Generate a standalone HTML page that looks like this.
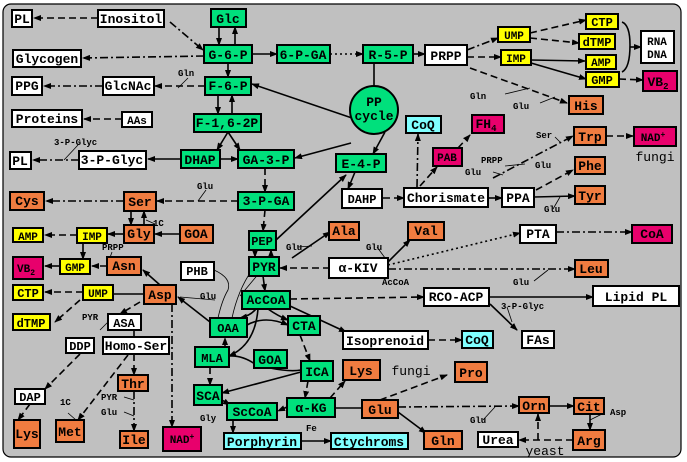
<!DOCTYPE html>
<html><head><meta charset="utf-8"><style>
html,body{margin:0;padding:0;background:#fff;width:687px;height:462px;overflow:hidden}
svg{display:block}
.b{stroke:#000;stroke-width:2}
.g{fill:#00e07c}.o{fill:#f07c40}.y{fill:#ffff00}.m{fill:#e8006c}.c{fill:#80ffff}.w{fill:#fff}
text{font-family:"Liberation Mono",monospace;font-weight:bold;font-size:13px;text-anchor:middle;fill:#000}
.s{font-size:9px;text-anchor:start}
.l{stroke:#000;stroke-width:1.6;fill:none;marker-end:url(#a)}
.d{stroke-dasharray:7 4}
.dd{stroke-dasharray:8 3 2 3}
.dt{stroke-dasharray:2 3}
.t{stroke:#000;stroke-width:0.8;fill:none}
</style></head><body>
<svg width="687" height="462" viewBox="0 0 687 462">
<defs><marker id="a" markerWidth="8" markerHeight="6" refX="7" refY="3" orient="auto" markerUnits="userSpaceOnUse"><path d="M0,0L8,3L0,6z" fill="#000"/></marker></defs>
<rect x="3" y="4" width="678" height="453" rx="8" fill="#c0c0c0" stroke="#000" stroke-width="1.2"/>
<g>
<line class="l d" x1="98" y1="18" x2="34" y2="18"/>
<line class="l dd" x1="170" y1="22" x2="203" y2="50"/>
<line class="l" x1="219" y1="27" x2="219" y2="45"/><line class="l" x1="235" y1="45" x2="235" y2="27"/>
<line class="l dd" x1="204" y1="56" x2="83" y2="58"/>
<line class="l" x1="252" y1="54" x2="277" y2="54"/>
<line class="l dt" x1="330" y1="54" x2="363" y2="54"/>
<line class="l" x1="413" y1="54" x2="425" y2="54"/>
<line class="t" style="stroke-width:1.6" x1="374" y1="63" x2="374" y2="86"/>
<line class="l" x1="228" y1="63" x2="228" y2="77"/>
<line class="l d" x1="205" y1="86" x2="155" y2="86"/>
<line class="l dd" x1="103" y1="86" x2="44" y2="86"/>
<line class="l d" x1="122" y1="119" x2="84" y2="119"/>
<line class="l" x1="218" y1="95" x2="218" y2="114"/><line class="l" x1="232" y1="114" x2="232" y2="95"/>
<line class="l" x1="228" y1="132" x2="217" y2="150"/><line class="l" x1="228" y1="132" x2="240" y2="150"/>
<line class="l" x1="220" y1="159" x2="238" y2="159"/>
<line class="l" x1="181" y1="159" x2="148" y2="159"/>
<line class="l dd" x1="79" y1="160" x2="33" y2="160"/>
<line class="l" x1="352" y1="118" x2="252" y2="84"/>
<line class="l" x1="351" y1="143" x2="295" y2="158"/>
<line class="l" x1="385" y1="132" x2="373" y2="154"/>
<line class="l d" x1="265" y1="168" x2="265" y2="192"/>
<line class="l d" x1="238" y1="201" x2="157" y2="201"/>
<line class="l dd" x1="124" y1="201" x2="46" y2="201"/>
<line class="l" x1="131" y1="211" x2="131" y2="225"/><line class="l" x1="144" y1="225" x2="144" y2="211"/>
<line class="l d" x1="265" y1="210" x2="263" y2="231"/>
<line class="l" x1="255" y1="250" x2="255" y2="257"/><line class="l" x1="271" y1="257" x2="271" y2="250"/>
<line class="l" x1="124" y1="234" x2="108" y2="234"/>
<line class="l" x1="180" y1="234" x2="155" y2="234"/>
<line class="l d" x1="77" y1="235" x2="45" y2="235"/>
<line class="l" x1="83" y1="243" x2="83" y2="259"/>
<line class="l" x1="60" y1="266" x2="45" y2="266"/>
<line class="l d" x1="107" y1="266" x2="92" y2="266"/>
<line class="l" x1="160" y1="285" x2="143" y2="270"/>
<line class="l d" x1="83" y1="292" x2="45" y2="292"/>
<line class="t" style="stroke-width:1.6" x1="144" y1="294" x2="113" y2="294"/>
<line class="l d" x1="80" y1="300" x2="55" y2="322"/>
<line class="l d" x1="140" y1="302" x2="120" y2="314"/>
<line class="t" style="stroke-width:1.6" x1="134" y1="330" x2="134" y2="337"/>
<line class="l d" x1="80" y1="354" x2="45" y2="389"/>
<line class="l d" x1="30" y1="404" x2="18" y2="420"/>
<line class="l d" x1="128" y1="355" x2="78" y2="420"/>
<line class="l d" x1="134" y1="354" x2="134" y2="375"/>
<line class="l dd" x1="134" y1="391" x2="134" y2="431"/>
<line class="l dd" x1="172" y1="304" x2="172" y2="427"/>
<line class="l" x1="210" y1="322" x2="178" y2="297"/>
<line class="l" x1="292" y1="258" x2="330" y2="232"/>
<line class="l d" x1="330" y1="268" x2="280" y2="268"/>
<line class="l" x1="263" y1="276" x2="265" y2="291"/>
<line class="l d" x1="290" y1="299" x2="424" y2="297"/>
<line class="l" x1="290" y1="306" x2="346" y2="332"/>
<path class="l" d="M256,309 Q250,316 240,318"/>
<path class="l" d="M268,309 Q278,316 288,320"/>
<path class="l" d="M247,325 Q265,315 288,325"/>
<path class="l" d="M258,309 Q255,345 229,356"/>
<path class="t" style="stroke-width:1.6" d="M229,356 Q245,355 260,368"/>
<path class="t" style="stroke-width:1.6" d="M270,368 Q290,372 301,370"/>
<path class="t" d="M214,270 Q232,278 228,290 Q222,300 218,318"/>
<path class="t" d="M232,318 Q238,290 252,270"/>
<line class="t" x1="240" y1="296" x2="270" y2="260"/>
<line class="l d" x1="300" y1="335" x2="310" y2="361"/>
<line class="l" x1="301" y1="372" x2="222" y2="393"/>
<line class="l d" x1="225" y1="347" x2="225" y2="338"/>
<line class="l d" x1="210" y1="367" x2="210" y2="385"/>
<line class="l d" x1="222" y1="400" x2="230" y2="405"/>
<line class="l" x1="233" y1="420" x2="233" y2="433"/>
<line class="l" x1="301" y1="441" x2="331" y2="441"/>
<line class="l d" x1="287" y1="407" x2="278" y2="411"/>
<line class="l d" x1="308" y1="381" x2="305" y2="398"/>
<line class="t" style="stroke-width:1.6" x1="335" y1="408" x2="362" y2="408"/>
<line class="l d" x1="330" y1="398" x2="345" y2="381"/>
<line class="l d" x1="380" y1="400" x2="447" y2="375"/>
<line class="l" x1="398" y1="412" x2="426" y2="433"/>
<line class="l dd" x1="398" y1="407" x2="519" y2="406"/>
<line class="l" x1="549" y1="406" x2="574" y2="406"/>
<line class="l" x1="590" y1="414" x2="590" y2="430"/>
<line class="l d" x1="573" y1="440" x2="519" y2="440"/>
<line class="l d" x1="538" y1="440" x2="538" y2="414"/>
<line class="l" x1="388" y1="262" x2="410" y2="240"/>
<line class="l dt" x1="388" y1="265" x2="520" y2="233"/>
<line class="l dd" x1="556" y1="232" x2="632" y2="232"/>
<line class="l dd" x1="388" y1="269" x2="575" y2="269"/>
<line class="l" x1="489" y1="297" x2="593" y2="297"/>
<line class="l" x1="490" y1="304" x2="517" y2="330"/>
<line class="l d" x1="428" y1="340" x2="462" y2="340"/>
<line class="l dd" x1="467" y1="50" x2="498" y2="38"/>
<line class="l d" x1="467" y1="57" x2="501" y2="57"/>
<line class="l d" x1="530" y1="33" x2="586" y2="20"/>
<line class="l d" x1="530" y1="38" x2="579" y2="43"/>
<line class="l" x1="531" y1="60" x2="585" y2="61"/>
<line class="l" x1="531" y1="63" x2="586" y2="79"/>
<line class="l d" x1="619" y1="79" x2="643" y2="80"/>
<path class="t" style="stroke-width:1.6" d="M622,22 Q630,25 630,45 Q630,68 622,72"/>
<line class="l d" x1="630" y1="47" x2="641" y2="47"/>
<line class="l d" x1="470" y1="68" x2="567" y2="103"/>
<line class="l dd" x1="417" y1="187" x2="418" y2="134"/>
<line class="l d" x1="420" y1="186" x2="437" y2="167"/>
<line class="l d" x1="458" y1="148" x2="470" y2="135"/>
<line class="l d" x1="383" y1="198" x2="404" y2="198"/>
<line class="l" x1="355" y1="172" x2="348" y2="189"/>
<line class="l" x1="276" y1="240" x2="346" y2="175"/>
<line class="l" x1="488" y1="198" x2="502" y2="198"/>
<line class="l" x1="534" y1="197" x2="575" y2="196"/>
<line class="l d" x1="536" y1="190" x2="573" y2="170"/>
<line class="l dd" x1="493" y1="178" x2="573" y2="136"/>
<line class="l d" x1="606" y1="136" x2="633" y2="136"/>
<line class="t" x1="178" y1="88" x2="188" y2="78"/><line class="t" x1="64" y1="160" x2="78" y2="145"/>
<line class="t" x1="198" y1="201" x2="206" y2="190"/><line class="t" x1="146" y1="220" x2="155" y2="224"/>
<line class="t" x1="107" y1="266" x2="112" y2="252"/><line class="t" x1="100" y1="330" x2="108" y2="322"/>
<line class="t" x1="68" y1="413" x2="76" y2="420"/><line class="t" x1="124" y1="397" x2="134" y2="400"/>
<line class="t" x1="124" y1="412" x2="134" y2="416"/><line class="t" x1="180" y1="297" x2="215" y2="300"/>
<line class="t" x1="298" y1="247" x2="312" y2="246"/><line class="t" x1="377" y1="247" x2="388" y2="262"/>
<line class="t" x1="534" y1="281" x2="548" y2="270"/><line class="t" x1="507" y1="307" x2="512" y2="322"/>
<line class="t" x1="505" y1="94" x2="530" y2="88"/><line class="t" x1="540" y1="103" x2="555" y2="97"/>
<line class="t" x1="505" y1="166" x2="525" y2="164"/><line class="t" x1="493" y1="172" x2="503" y2="175"/>
<line class="t" x1="555" y1="137" x2="560" y2="142"/><line class="t" x1="553" y1="209" x2="560" y2="197"/>
<line class="t" x1="483" y1="420" x2="495" y2="407"/><line class="t" x1="604" y1="413" x2="590" y2="420"/>
</g>
<circle cx="374" cy="110" r="24" class="g b"/>
<text x="374" y="106">PP</text><text x="374" y="120">cycle</text>
<g class="b">
<rect x="12" y="10" width="20" height="17" class="w"/><rect x="98" y="10" width="66" height="17" class="w"/>
<rect x="211" y="9" width="35" height="18" class="g"/><rect x="13" y="50" width="68" height="17" class="w"/>
<rect x="204" y="45" width="48" height="18" class="g"/><rect x="277" y="45" width="53" height="18" class="g"/>
<rect x="363" y="45" width="50" height="18" class="g"/><rect x="425" y="45" width="42" height="20" class="w"/>
<rect x="498" y="27" width="32" height="15" class="y"/><rect x="501" y="50" width="30" height="15" class="y"/>
<rect x="586" y="14" width="32" height="15" class="y"/><rect x="579" y="34" width="36" height="15" class="y"/>
<rect x="586" y="55" width="30" height="14" class="y"/><rect x="586" y="72" width="33" height="15" class="y"/>
<rect x="641" y="31" width="33" height="32" class="w"/><rect x="643" y="71" width="34" height="20" class="m"/>
<rect x="12" y="77" width="30" height="18" class="w"/><rect x="103" y="77" width="51" height="18" class="w"/>
<rect x="205" y="77" width="46" height="18" class="g"/><rect x="12" y="110" width="70" height="17" class="w"/>
<rect x="122" y="112" width="30" height="15" class="w"/><rect x="194" y="114" width="67" height="18" class="g"/>
<rect x="10" y="152" width="21" height="17" class="w"/><rect x="79" y="151" width="67" height="18" class="w"/>
<rect x="181" y="150" width="39" height="18" class="g"/><rect x="238" y="150" width="56" height="18" class="g"/>
<rect x="406" y="116" width="35" height="17" class="c"/><rect x="472" y="115" width="32" height="18" class="m"/>
<rect x="433" y="148" width="29" height="18" class="m"/><rect x="336" y="154" width="50" height="18" class="g"/>
<rect x="569" y="96" width="34" height="18" class="o"/><rect x="574" y="127" width="32" height="18" class="o"/>
<rect x="634" y="127" width="42" height="19" class="m"/><rect x="575" y="157" width="30" height="17" class="o"/>
<rect x="575" y="186" width="30" height="18" class="o"/><rect x="342" y="189" width="40" height="19" class="w"/>
<rect x="404" y="188" width="84" height="19" class="w"/><rect x="502" y="188" width="32" height="19" class="w"/>
<rect x="10" y="192" width="34" height="18" class="o"/><rect x="124" y="192" width="32" height="19" class="o"/>
<rect x="238" y="192" width="56" height="18" class="g"/>
<rect x="13" y="228" width="30" height="14" class="y"/><rect x="77" y="228" width="30" height="15" class="y"/>
<rect x="124" y="225" width="30" height="18" class="o"/><rect x="180" y="225" width="33" height="18" class="o"/>
<rect x="249" y="231" width="27" height="19" class="g"/><rect x="329" y="222" width="30" height="18" class="o"/>
<rect x="408" y="222" width="36" height="18" class="o"/><rect x="520" y="225" width="36" height="18" class="w"/>
<rect x="632" y="225" width="40" height="18" class="m"/>
<rect x="13" y="257" width="30" height="22" class="m"/><rect x="60" y="259" width="30" height="15" class="y"/>
<rect x="107" y="257" width="34" height="18" class="o"/><rect x="249" y="257" width="30" height="19" class="g"/>
<rect x="181" y="262" width="33" height="18" class="w"/><rect x="329" y="258" width="59" height="20" class="w"/>
<rect x="575" y="260" width="33" height="17" class="o"/>
<rect x="13" y="285" width="30" height="15" class="y"/><rect x="83" y="285" width="30" height="15" class="y"/>
<rect x="144" y="285" width="32" height="19" class="o"/><rect x="242" y="291" width="48" height="18" class="g"/>
<rect x="424" y="288" width="65" height="18" class="w"/><rect x="593" y="286" width="86" height="20" class="w"/>
<rect x="13" y="314" width="37" height="16" class="y"/><rect x="108" y="314" width="33" height="16" class="w"/>
<rect x="66" y="338" width="28" height="15" class="w"/><rect x="103" y="337" width="66" height="17" class="w"/>
<rect x="210" y="318" width="37" height="19" class="g"/><rect x="288" y="316" width="32" height="19" class="g"/>
<rect x="343" y="331" width="85" height="18" class="w"/><rect x="462" y="331" width="31" height="17" class="c"/>
<rect x="522" y="331" width="32" height="17" class="w"/>
<rect x="195" y="347" width="34" height="20" class="g"/><rect x="254" y="350" width="33" height="18" class="g"/>
<rect x="301" y="361" width="32" height="20" class="g"/><rect x="343" y="360" width="37" height="20" class="o"/>
<rect x="455" y="362" width="32" height="20" class="o"/><rect x="118" y="375" width="30" height="16" class="o"/>
<rect x="194" y="385" width="28" height="20" class="g"/><rect x="15" y="389" width="30" height="15" class="w"/>
<rect x="227" y="403" width="50" height="17" class="g"/><rect x="287" y="398" width="48" height="19" class="g"/>
<rect x="362" y="400" width="36" height="18" class="o"/><rect x="519" y="397" width="30" height="16" class="o"/>
<rect x="574" y="398" width="30" height="16" class="o"/>
<rect x="14" y="420" width="26" height="28" class="o"/><rect x="56" y="420" width="28" height="22" class="o"/>
<rect x="120" y="431" width="28" height="17" class="o"/><rect x="163" y="427" width="38" height="24" class="m"/>
<rect x="224" y="433" width="77" height="16" class="c"/><rect x="331" y="433" width="77" height="16" class="c"/>
<rect x="424" y="431" width="38" height="18" class="o"/><rect x="478" y="432" width="40" height="15" class="w"/>
<rect x="573" y="430" width="32" height="20" class="o"/>
</g>
<g>
<text x="22" y="23">PL</text><text x="131" y="23">Inositol</text><text x="228" y="23">Glc</text>
<text x="47" y="63">Glycogen</text><text x="228" y="59">G-6-P</text><text x="303" y="59">6-P-GA</text>
<text x="388" y="59">R-5-P</text><text x="446" y="60">PRPP</text>
<text x="514" y="39" style="font-size:11px">UMP</text><text x="516" y="62" style="font-size:11px">IMP</text>
<text x="602" y="26" style="font-size:12px">CTP</text><text x="597" y="46" style="font-size:12px">dTMP</text>
<text x="601" y="66" style="font-size:11px">AMP</text><text x="602" y="84" style="font-size:12px">GMP</text>
<text x="657" y="45" style="font-size:11px">RNA</text><text x="657" y="58" style="font-size:11px">DNA</text>
<text x="658" y="86">VB<tspan font-size="9" dy="3">2</tspan></text>
<text x="27" y="90">PPG</text><text x="128" y="90">GlcNAc</text><text x="228" y="90">F-6-P</text>
<text x="47" y="123">Proteins</text><text x="137" y="124" style="font-size:11px">AAs</text>
<text x="227" y="127">F-1,6-2P</text>
<text x="20" y="165">PL</text><text x="112" y="164">3-P-Glyc</text><text x="200" y="164">DHAP</text><text x="266" y="164">GA-3-P</text>
<text x="423" y="129">CoQ</text><text x="486" y="128">FH<tspan font-size="9" dy="3">4</tspan></text>
<text x="447" y="161" style="font-size:11px">PAB</text><text x="361" y="168">E-4-P</text>
<text x="586" y="110">His</text><text x="590" y="141">Trp</text>
<text x="653" y="141" style="font-size:11px">NAD<tspan font-size="8" dy="-4">+</tspan></text>
<text x="655" y="161" style="font-weight:normal">fungi</text>
<text x="590" y="170">Phe</text><text x="590" y="200">Tyr</text>
<text x="362" y="203" style="font-size:12px">DAHP</text><text x="446" y="202">Chorismate</text><text x="518" y="202">PPA</text>
<text x="27" y="205">Cys</text><text x="140" y="206">Ser</text><text x="266" y="205">3-P-GA</text>
<text x="28" y="240" style="font-size:11px">AMP</text><text x="92" y="240" style="font-size:11px">IMP</text>
<text x="139" y="238">Gly</text><text x="196" y="238">GOA</text><text x="262" y="245" style="font-size:12px">PEP</text>
<text x="344" y="235">Ala</text><text x="426" y="235">Val</text><text x="538" y="238">PTA</text><text x="652" y="238">CoA</text>
<text x="26" y="272" style="font-size:11px">VB<tspan font-size="8" dy="3">2</tspan></text>
<text x="75" y="271" style="font-size:11px">GMP</text><text x="124" y="270">Asn</text><text x="264" y="271">PYR</text>
<text x="197" y="275" style="font-size:12px">PHB</text><text x="358" y="272">α-KIV</text><text x="591" y="273">Leu</text>
<text x="28" y="297" style="font-size:12px">CTP</text><text x="98" y="297" style="font-size:11px">UMP</text>
<text x="160" y="299">Asp</text><text x="266" y="304">AcCoA</text>
<text x="456" y="301">RCO-ACP</text><text x="636" y="301">Lipid PL</text>
<text x="31" y="327" style="font-size:12px">dTMP</text><text x="124" y="327" style="font-size:12px">ASA</text>
<text x="80" y="350" style="font-size:12px">DDP</text><text x="136" y="350">Homo-Ser</text>
<text x="228" y="332" style="font-size:12px">OAA</text><text x="304" y="330">CTA</text>
<text x="385" y="345">Isoprenoid</text><text x="477" y="344">CoQ</text><text x="538" y="344">FAs</text>
<text x="212" y="362" style="font-size:12px">MLA</text><text x="270" y="364">GOA</text><text x="317" y="376">ICA</text>
<text x="361" y="375">Lys</text><text x="411" y="375" style="font-weight:normal">fungi</text><text x="471" y="377">Pro</text>
<text x="133" y="388">Thr</text><text x="208" y="400">SCA</text><text x="30" y="401" style="font-size:12px">DAP</text>
<text x="252" y="416">ScCoA</text><text x="311" y="412">α-KG</text><text x="380" y="414">Glu</text>
<text x="534" y="410">Orn</text><text x="589" y="411">Cit</text>
<text x="27" y="438">Lys</text><text x="70" y="436">Met</text><text x="134" y="444">Ile</text>
<text x="182" y="443" style="font-size:11px">NAD<tspan font-size="8" dy="-4">+</tspan></text>
<text x="262" y="446">Porphyrin</text><text x="369" y="446">Ctychroms</text>
<text x="443" y="445">Gln</text><text x="498" y="444">Urea</text><text x="589" y="445">Arg</text>
<text x="545" y="455" style="font-weight:normal">yeast</text>
</g>
<g>
<text class="s" x="178" y="76">Gln</text><text class="s" x="54" y="145">3-P-Glyc</text>
<text class="s" x="197" y="189">Glu</text><text class="s" x="153" y="226">1C</text>
<text class="s" x="102" y="250">PRPP</text><text class="s" x="82" y="320">PYR</text>
<text class="s" x="60" y="405">1C</text><text class="s" x="101" y="400">PYR</text><text class="s" x="101" y="415">Glu</text>
<text class="s" x="200" y="299">Glu</text><text class="s" x="286" y="250">Glu</text><text class="s" x="366" y="250">Glu</text>
<text class="s" x="382" y="285">AcCoA</text><text class="s" x="513" y="285">Glu</text>
<text class="s" x="501" y="309">3-P-Glyc</text><text class="s" x="200" y="421">Gly</text>
<text class="s" x="306" y="431">Fe</text><text class="s" x="470" y="99">Gln</text><text class="s" x="513" y="109">Glu</text>
<text class="s" x="536" y="138">Ser</text><text class="s" x="481" y="163">PRPP</text><text class="s" x="465" y="175">Glu</text>
<text class="s" x="535" y="168">Glu</text><text class="s" x="544" y="212">Glu</text>
<text class="s" x="470" y="423">Glu</text><text class="s" x="610" y="415">Asp</text>
</g>
</svg>
</body></html>
